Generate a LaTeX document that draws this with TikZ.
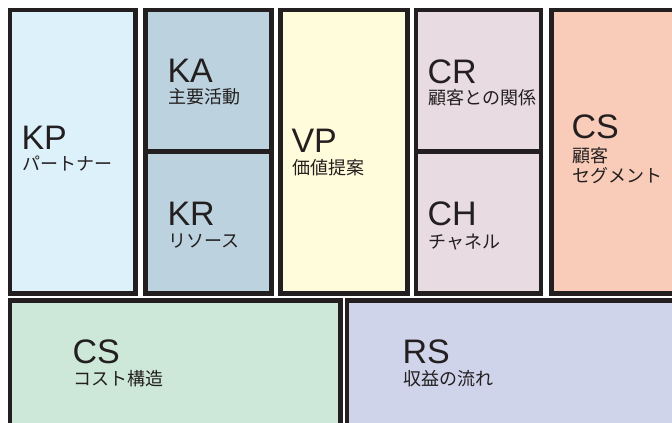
\documentclass[tikz,border=0pt]{standalone}
\usepackage{fontspec}
\setmainfont{Liberation Sans}
\newfontfamily\jpfont{Noto Sans CJK JP}

\definecolor{inkcol}{RGB}{35,31,32}
\definecolor{kpcol}{RGB}{221,241,251}
\definecolor{kacol}{RGB}{188,210,222}
\definecolor{vpcol}{RGB}{255,252,219}
\definecolor{crcol}{RGB}{232,219,225}
\definecolor{cscol}{RGB}{249,204,186}
\definecolor{costcol}{RGB}{205,232,216}
\definecolor{rscol}{RGB}{208,212,234}

\tikzset{every picture/.style={line width=0.75pt}}

\begin{document}
\begin{tikzpicture}[x=0.75pt,y=0.75pt,yscale=-1,
	block/.style={draw=inkcol,line width=3.5,line join=miter},
	head/.style={anchor=base west,inner sep=0pt,text=inkcol,font=\fontsize{25.5}{28}\selectfont},
	sub/.style={anchor=base west,inner sep=0pt,text=inkcol,font=\jpfont\fontsize{13.5}{15}\selectfont}]
	\clip (0,0) rectangle (672,422);
	\fill [white] (0,0) rectangle (672,422);

	%Shape: Rectangle [KP]
	\draw [block, fill=kpcol] (10,10) rectangle (135.5,293.5) ;
	%Shape: Rectangle [KA]
	\draw [block, fill=kacol] (145.3,10) rectangle (271.3,151.3) ;
	%Shape: Rectangle [KR]
	\draw [block, fill=kacol] (145.3,151.3) rectangle (271.3,293.5) ;
	%Shape: Rectangle [VP]
	\draw [block, fill=vpcol] (280.3,10) rectangle (407.2,293.5) ;
	%Shape: Rectangle [CR]
	\draw [block, fill=crcol] (416,10) rectangle (541,151.3) ;
	%Shape: Rectangle [CH]
	\draw [block, fill=crcol] (416,151.3) rectangle (541,293.5) ;
	%Shape: Rectangle [CS]
	\draw [block, fill=cscol] (551.3,10) rectangle (690,293.5) ;
	%Shape: Rectangle [cost]
	\draw [block, fill=costcol] (10,300.4) rectangle (340.5,440) ;
	%Shape: Rectangle [RS]
	\draw [block, fill=rscol] (347,300.4) rectangle (690,440) ;

	% Text Node
	\node (kp) [head] at (21,149) {KP};
	\node (kpsub) [sub] at (22,170) {パートナー};
	% Text Node
	\node (ka) [head] at (167,82) {KA};
	\node (kasub) [sub] at (168,103) {主要活動};
	% Text Node
	\node (kr) [head] at (167,225) {KR};
	\node (krsub) [sub] at (168,247) {リソース};
	% Text Node
	\node (vp) [head] at (291,152) {VP};
	\node (vpsub) [sub] at (292,174) {価値提案};
	% Text Node
	\node (cr) [head] at (427,83) {CR};
	\node (crsub) [sub] at (428,104.5) {顧客との関係};
	% Text Node
	\node (ch) [head] at (427,225) {CH};
	\node (chsub) [sub] at (428,248) {チャネル};
	% Text Node
	\node (cs) [head] at (571,138) {CS};
	\node (cssub) [sub] at (572,162) {顧客};
	\node (cssubb) [sub] at (572,182) {セグメント};
	% Text Node
	\node (cost) [head] at (72,363) {CS};
	\node (costsub) [sub] at (73,385) {コスト構造};
	% Text Node
	\node (rs) [head] at (402,363) {RS};
	\node (rssub) [sub] at (403,385) {収益の流れ};

\end{tikzpicture}
\end{document}
